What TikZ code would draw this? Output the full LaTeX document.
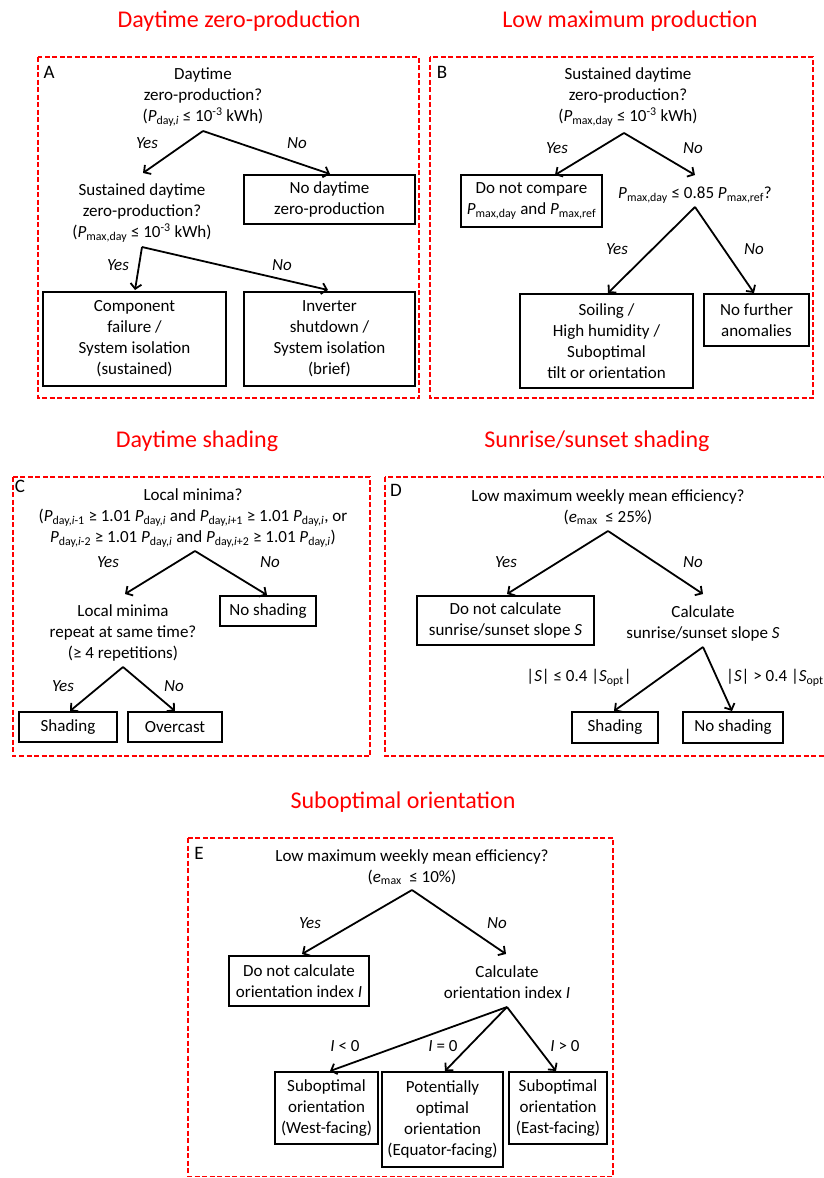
\documentclass[tikz,border=0pt]{standalone}
\usepackage{fontspec}
\setmainfont{Carlito}
\usetikzlibrary{arrows.meta}
\newcommand\myP[1]{\textit{P}\textsubscript{#1}}
\newcommand\myE{\textit{e}\textsubscript{max}}
\tikzset{
  panel/.style={draw=red, line width=1.5pt, dash pattern=on 5pt off 2.5pt},
  box/.style={draw, line width=2pt, align=center, inner sep=0pt},
  txt/.style={align=center, inner sep=0pt},
  yn/.style={inner sep=0pt, font=\fontsize{17}{21}\selectfont\itshape},
  plab/.style={inner sep=0pt, font=\fontsize{19}{22}\selectfont},
  ttl/.style={inner sep=0pt, text=red, font=\fontsize{24}{28}\selectfont},
  arr/.style={line width=1.8pt, -{Straight Barb[length=5pt,width=11pt]}},
}
\begin{document}
\begin{tikzpicture}[x=1pt, y=-1pt, font=\fontsize{17}{21}\selectfont]
\useasboundingbox (0,0) rectangle (824,1178);

% titles
\node[ttl] (tA) at (239,21) {Daytime zero-production};
\node[ttl] (tB) at (630,21) {Low maximum production};
\node[ttl] (tC) at (197,441) {Daytime shading};
\node[ttl] (tD) at (597,441) {Sunrise/sunset shading};
\node[ttl] (tE) at (403,802) {Suboptimal orientation};

% panels
\draw[panel] (38,57) rectangle (419,398);
\draw[panel] (430,57) rectangle (813,398);
\draw[panel] (13,477) rectangle (370,756);
\draw[panel] (385,477) rectangle (830,756);
\draw[panel] (188,838) rectangle (613,1176.5);

\node[plab] (lA) at (49,72) {A};
\node[plab] (lB) at (442,72) {B};
\node[plab] (lC) at (20,486) {C};
\node[plab] (lD) at (396,490) {D};
\node[plab] (lE) at (199,853) {E};

% ---------- Panel A ----------
\node[txt] (qA1) at (203,97) {Daytime\\zero-production?\\(\myP{day,\textit{i}} ≤ 10\textsuperscript{-3} kWh)};
\coordinate (cA1) at (203,131);
\coordinate (eA1y) at (143,173);
\coordinate (eA1n) at (330,174);
\node[yn] (yA1) at (147,143) {Yes};
\node[yn] (nA1) at (297,143) {No};
\node[box, minimum width=171, minimum height=49] (bA1) at (329.5,199.5) {No daytime\\zero-production};
\node[txt] (qA2) at (142,213) {Sustained daytime\\zero-production?\\(\myP{max,day} ≤ 10\textsuperscript{-3} kWh)};
\coordinate (cA2) at (142,247);
\coordinate (eA2y) at (135,290);
\coordinate (eA2n) at (328,290);
\node[yn] (yA2) at (118,265) {Yes};
\node[yn] (nA2) at (282,265) {No};
\node[box, minimum width=183, minimum height=94] (bA2) at (134.5,339) {Component\\failure /\\System isolation\\(sustained)};
\node[box, minimum width=171, minimum height=94] (bA3) at (329.5,339) {Inverter\\shutdown /\\System isolation\\(brief)};
\draw[arr] (cA1) -- (eA1y);
\draw[arr] (cA1) -- (eA1n);
\draw[arr] (cA2) -- (eA2y);
\draw[arr] (cA2) -- (eA2n);

% ---------- Panel B ----------
\node[txt] (qB1) at (628,97) {Sustained daytime\\zero-production?\\(\myP{max,day} ≤ 10\textsuperscript{-3} kWh)};
\coordinate (cB1) at (624,133);
\coordinate (eB1y) at (555,175);
\coordinate (eB1n) at (695,175);
\node[yn] (yB1) at (557,148) {Yes};
\node[yn] (nB1) at (693,148) {No};
\node[box, minimum width=141, minimum height=52] (bB1) at (531.5,201) {Do not compare\\\myP{max,day} and \myP{max,ref}};
\node[txt] (qB2) at (695,195) {\myP{max,day} ≤ 0.85 \myP{max,ref}?};
\coordinate (cB2) at (695,207);
\coordinate (eB2y) at (608,293);
\coordinate (eB2n) at (754,293);
\node[yn] (yB2) at (617,249) {Yes};
\node[yn] (nB2) at (754,249) {No};
\node[box, minimum width=173, minimum height=94] (bB2) at (606.5,341) {Soiling /\\High humidity /\\Suboptimal\\tilt or orientation};
\node[box, minimum width=105, minimum height=52] (bB3) at (756.5,320) {No further\\anomalies};
\draw[arr] (cB1) -- (eB1y);
\draw[arr] (cB1) -- (eB1n);
\draw[arr] (cB2) -- (eB2y);
\draw[arr] (cB2) -- (eB2n);

% ---------- Panel C ----------
\node[txt] (qC1) at (193,518) {Local minima?\\(\myP{day,\textit{i}-1} ≥ 1.01 \myP{day,\textit{i}} and \myP{day,\textit{i}+1} ≥ 1.01 \myP{day,\textit{i}}, or\\\myP{day,\textit{i}-2} ≥ 1.01 \myP{day,\textit{i}} and \myP{day,\textit{i}+2} ≥ 1.01 \myP{day,\textit{i}})};
\coordinate (cC1) at (195,551);
\coordinate (eC1y) at (125,594);
\coordinate (eC1n) at (267,595);
\node[yn] (yC1) at (108,562) {Yes};
\node[yn] (nC1) at (270,562) {No};
\node[box, minimum width=96, minimum height=30] (bC1) at (268,611) {No shading};
\node[txt] (qC2) at (123,633) {Local minima\\repeat at same time?\\(≥ 4 repetitions)};
\coordinate (cC2) at (123,667);
\coordinate (eC2y) at (70,711);
\coordinate (eC2n) at (175,711);
\node[yn] (yC2) at (63,686) {Yes};
\node[yn] (nC2) at (174,686) {No};
\node[box, minimum width=98, minimum height=30] (bC2) at (68,727) {Shading};
\node[box, minimum width=94, minimum height=30] (bC3) at (175,727) {Overcast};
\draw[arr] (cC1) -- (eC1y);
\draw[arr] (cC1) -- (eC1n);
\draw[arr] (cC2) -- (eC2y);
\draw[arr] (cC2) -- (eC2n);

% ---------- Panel D ----------
\node[txt] (qD1) at (608,507) {Low maximum weekly mean efficiency?\\(\myE\ \ ≤ 25\%)};
\coordinate (cD1) at (608,531);
\coordinate (eD1y) at (507,594);
\coordinate (eD1n) at (703,594);
\node[yn] (yD1) at (506,562) {Yes};
\node[yn] (nD1) at (693,562) {No};
\node[box, minimum width=177, minimum height=49] (bD1) at (505.5,620.5) {Do not calculate\\sunrise/sunset slope \textit{S}};
\node[txt] (qD2) at (703,623) {Calculate\\sunrise/sunset slope \textit{S}};
\coordinate (cD2) at (703,647);
\coordinate (eD2l) at (614,711);
\coordinate (eD2r) at (732,711);
\node[inner sep=0pt] (lD2l) at (579,678) {|\textit{S}| ≤ 0.4 |\textit{S}\textsubscript{opt}|};
\node[inner sep=0pt, anchor=west] (lD2r) at (726,678) {|\textit{S}| > 0.4 |\textit{S}\textsubscript{opt}|};
\node[box, minimum width=86, minimum height=31] (bD2) at (615,727.5) {Shading};
\node[box, minimum width=100, minimum height=31] (bD3) at (733,727.5) {No shading};
\draw[arr] (cD1) -- (eD1y);
\draw[arr] (cD1) -- (eD1n);
\draw[arr] (cD2) -- (eD2l);
\draw[arr] (cD2) -- (eD2r);

% ---------- Panel E ----------
\node[txt] (qE1) at (412,867) {Low maximum weekly mean efficiency?\\(\myE\ \ ≤ 10\%)};
\coordinate (cE1) at (412,890);
\coordinate (eE1y) at (302,954);
\coordinate (eE1n) at (506,954);
\node[yn] (yE1) at (310,923) {Yes};
\node[yn] (nE1) at (497,923) {No};
\node[box, minimum width=140, minimum height=50] (bE1) at (299,981) {Do not calculate\\orientation index \textit{I}};
\node[txt] (qE2) at (507,982) {Calculate\\orientation index \textit{I}};
\coordinate (cE2) at (507,1007);
\coordinate (eE2a) at (330,1071);
\coordinate (eE2b) at (445,1071);
\coordinate (eE2c) at (556,1071);
\node[inner sep=0pt] (lE2a) at (345,1046) {\textit{I} < 0};
\node[inner sep=0pt] (lE2b) at (443,1046) {\textit{I} = 0};
\node[inner sep=0pt] (lE2c) at (565,1046) {\textit{I} > 0};
\node[box, minimum width=103, minimum height=72] (bE2) at (326.5,1108) {Suboptimal\\orientation\\(West-facing)};
\node[box, minimum width=121, minimum height=95] (bE3) at (442.5,1119.5) {Potentially\\optimal\\orientation\\(Equator-facing)};
\node[box, minimum width=98, minimum height=72] (bE4) at (558,1108) {Suboptimal\\orientation\\(East-facing)};
\draw[arr] (cE1) -- (eE1y);
\draw[arr] (cE1) -- (eE1n);
\draw[arr] (cE2) -- (eE2a);
\draw[arr] (cE2) -- (eE2b);
\draw[arr] (cE2) -- (eE2c);
\end{tikzpicture}
\end{document}
